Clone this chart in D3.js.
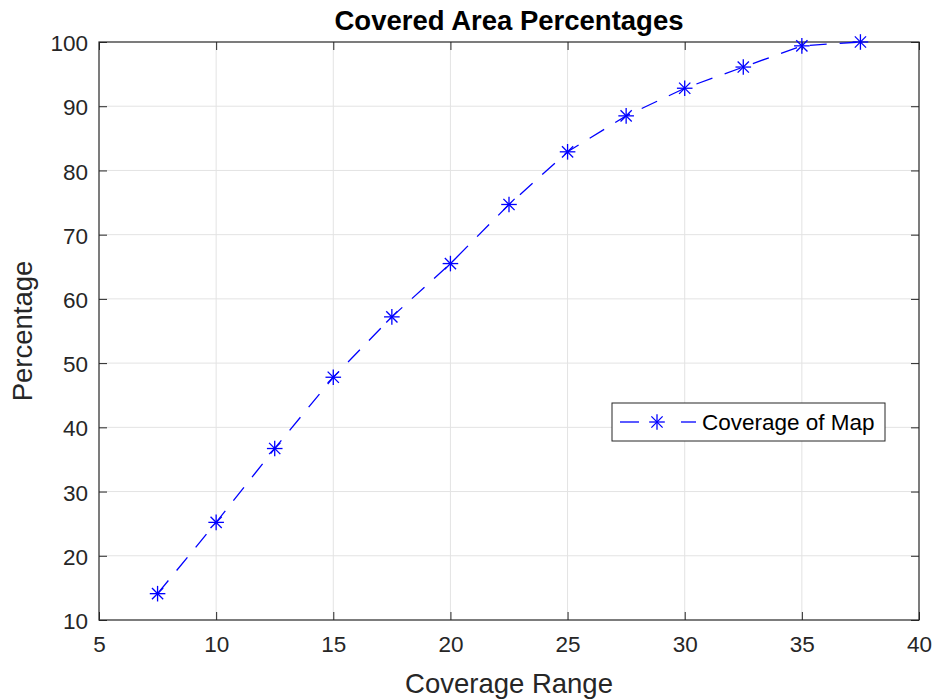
<!DOCTYPE html>
<html>
<head>
<meta charset="utf-8">
<script src="https://cdn.jsdelivr.net/npm/d3@7"></script>
<style>
  body { margin: 0; background: #fff; }
  text { font-family: "Liberation Sans", Arial, Helvetica, sans-serif; }
</style>
</head>
<body>
<script>
const coverageRange = [7.5, 10, 12.5, 15, 17.5, 20, 22.5, 25, 27.5, 30, 32.5, 35, 37.5]
const coveragePct = [14.1, 25.2, 36.7, 47.8, 57.2, 65.5, 74.7, 82.9, 88.5, 92.8, 96.1, 99.4, 100]
const xTicks = [5, 10, 15, 20, 25, 30, 35, 40]
const yTicks = [10, 20, 30, 40, 50, 60, 70, 80, 90, 100]
const titleText = 'Covered Area Percentages'
const xLabel = 'Coverage Range'
const yLabel = 'Percentage'
const seriesName = 'Coverage of Map'

const width = 937
const height = 700
const margin = {left: 99, right: 18, top: 42, bottom: 80}
const axisColor = '#262626'
const gridColor = '#e3e3e3'
const lineColor = '#0000ff'
const tickFont = '22.5px'

const svg = d3.select('body').append('svg')
    .attr('width', width)
    .attr('height', height)

const x = d3.scaleLinear().domain([5, 40]).range([margin.left, width - margin.right])
const y = d3.scaleLinear().domain([10, 100]).range([height - margin.bottom, margin.top])

// grid
svg.append('g').selectAll('line')
    .data(xTicks.slice(1, -1))
    .join('line')
    .attr('x1', d => x(d)).attr('x2', d => x(d))
    .attr('y1', y(10)).attr('y2', y(100))
    .attr('stroke', gridColor).attr('stroke-width', 1)
svg.append('g').selectAll('line')
    .data(yTicks.slice(1, -1))
    .join('line')
    .attr('x1', x(5)).attr('x2', x(40))
    .attr('y1', d => y(d)).attr('y2', d => y(d))
    .attr('stroke', gridColor).attr('stroke-width', 1)

// axes, ticks pointing inward
function styleAxis(g) {
    g.select('.domain').remove()
    g.selectAll('.tick line').attr('stroke', axisColor)
    g.selectAll('.tick text')
        .attr('fill', axisColor)
        .style('font-size', tickFont)
}
svg.append('g')
    .attr('transform', `translate(0,${y(10)})`)
    .call(d3.axisBottom(x).tickValues(xTicks).tickSize(-8).tickPadding(16))
    .call(styleAxis)
svg.append('g')
    .attr('transform', `translate(0,${y(100)})`)
    .call(d3.axisTop(x).tickValues(xTicks).tickSize(-8).tickFormat(''))
    .call(styleAxis)
svg.append('g')
    .attr('transform', `translate(${x(5)},0)`)
    .call(d3.axisLeft(y).tickValues(yTicks).tickSize(-8).tickPadding(11))
    .call(styleAxis)
    .selectAll('.tick text').attr('dy', '0.38em')
svg.append('g')
    .attr('transform', `translate(${x(40)},0)`)
    .call(d3.axisRight(y).tickValues(yTicks).tickSize(-8).tickFormat(''))
    .call(styleAxis)

svg.append('rect')
    .attr('x', x(5)).attr('y', y(100))
    .attr('width', x(40) - x(5)).attr('height', y(10) - y(100))
    .attr('fill', 'none').attr('stroke', axisColor).attr('stroke-width', 1.2)

// data line
const line = d3.line().x((d, i) => x(coverageRange[i])).y(d => y(d))
svg.append('path')
    .datum(coveragePct)
    .attr('d', line)
    .attr('fill', 'none')
    .attr('stroke', lineColor)
    .attr('stroke-width', 1.3)
    .attr('stroke-dasharray', '17,13')

function star(g, cx, cy, r) {
    const s = r * 0.72
    const segs = [[-r, 0, r, 0], [0, -r, 0, r], [-s, -s, s, s], [-s, s, s, -s]]
    g.selectAll(null).data(segs).join('line')
        .attr('x1', d => cx + d[0]).attr('y1', d => cy + d[1])
        .attr('x2', d => cx + d[2]).attr('y2', d => cy + d[3])
        .attr('stroke', lineColor).attr('stroke-width', 1.3)
}
const markers = svg.append('g')
coveragePct.forEach((v, i) => star(markers.append('g'), x(coverageRange[i]), y(v), 7.8))

// title and labels
svg.append('text')
    .attr('x', (x(5) + x(40)) / 2).attr('y', 30)
    .attr('text-anchor', 'middle')
    .style('font-size', '27.5px').style('font-weight', 'bold')
    .attr('fill', '#000')
    .text(titleText)
svg.append('text')
    .attr('x', (x(5) + x(40)) / 2).attr('y', 693)
    .attr('text-anchor', 'middle')
    .style('font-size', '27.5px')
    .attr('fill', axisColor)
    .text(xLabel)
svg.append('text')
    .attr('transform', `translate(32,${(y(10) + y(100)) / 2}) rotate(-90)`)
    .attr('text-anchor', 'middle')
    .style('font-size', '27.5px')
    .attr('fill', axisColor)
    .text(yLabel)

// legend
const lg = svg.append('g').attr('transform', 'translate(612,403)')
lg.append('rect')
    .attr('width', 273).attr('height', 38)
    .attr('fill', '#fff').attr('stroke', axisColor).attr('stroke-width', 1)
lg.append('line').attr('x1', 8).attr('x2', 27).attr('y1', 19).attr('y2', 19)
    .attr('stroke', lineColor).attr('stroke-width', 1.3)
lg.append('line').attr('x1', 69).attr('x2', 84).attr('y1', 19).attr('y2', 19)
    .attr('stroke', lineColor).attr('stroke-width', 1.3)
star(lg.append('g'), 45, 19, 7.8)
lg.append('text')
    .attr('x', 90).attr('y', 27)
    .style('font-size', tickFont)
    .attr('fill', '#000')
    .text(seriesName)
</script>
</body>
</html>
